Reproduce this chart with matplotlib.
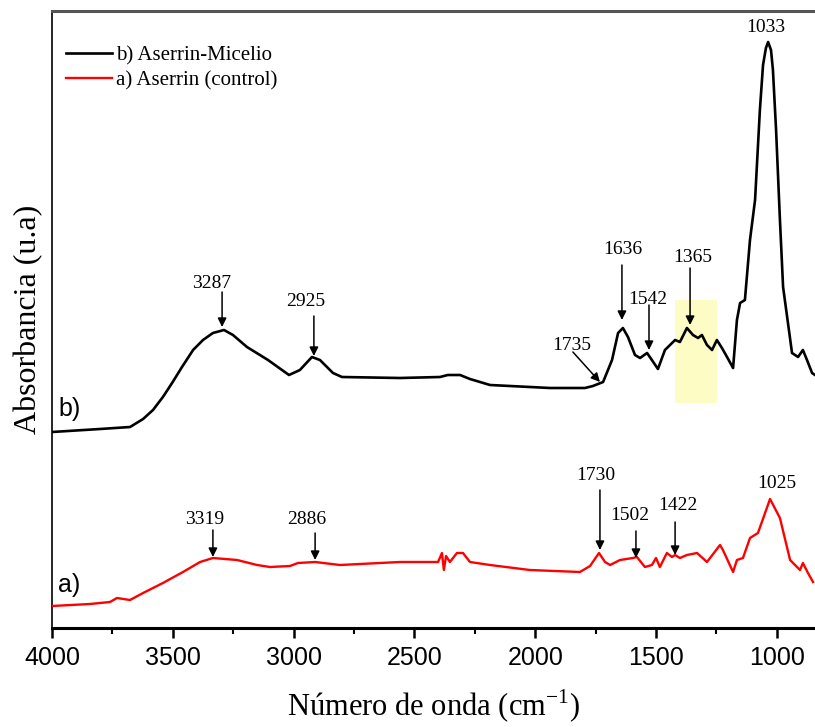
import matplotlib.pyplot as plt
from matplotlib.patches import Rectangle

# espectro b) Aserrin-Micelio (numero de onda, absorbancia u.a.)
wn_b = [4000, 3801, 3677, 3623, 3582, 3541, 3503, 3462, 3416, 3375, 3334, 3288,
        3251, 3193, 3106, 3019, 2974, 2924, 2891, 2837, 2800, 2560, 2394, 2362,
        2311, 2270, 2187, 1939, 1794, 1761, 1719, 1682, 1657, 1637, 1616, 1587,
        1566, 1537, 1517, 1492, 1463, 1421, 1401, 1372, 1347, 1326, 1310, 1289,
        1268, 1248, 1227, 1206, 1181, 1165, 1152, 1132, 1111, 1090, 1070, 1057,
        1045, 1036, 1024, 1016, 1003, 987, 974, 937, 912, 892, 875, 854, 842]
abs_b = [1.96, 1.99, 2.01, 2.09, 2.18, 2.31, 2.45, 2.61, 2.78, 2.88, 2.95, 2.98,
         2.93, 2.81, 2.68, 2.53, 2.58, 2.71, 2.68, 2.55, 2.51, 2.50, 2.51, 2.53,
         2.53, 2.49, 2.43, 2.40, 2.40, 2.42, 2.46, 2.68, 2.95, 3.00, 2.91, 2.73,
         2.70, 2.75, 2.68, 2.59, 2.78, 2.88, 2.86, 3.00, 2.93, 2.90, 2.93, 2.83,
         2.78, 2.88, 2.80, 2.71, 2.60, 3.08, 3.25, 3.28, 3.88, 4.28, 5.18, 5.63,
         5.80, 5.86, 5.78, 5.58, 4.98, 4.08, 3.41, 2.75, 2.71, 2.78, 2.68, 2.55,
         2.53]

# espectro a) Aserrin (control)
wn_a = [4000, 3843, 3760, 3731, 3677, 3623, 3541, 3458, 3387, 3334, 3234, 3151,
        3098, 3015, 2982, 2911, 2808, 2560, 2402, 2386, 2378, 2369, 2353, 2324,
        2299, 2270, 2187, 2022, 1815, 1773, 1736, 1711, 1690, 1649, 1595, 1579,
        1546, 1517, 1500, 1484, 1455, 1434, 1421, 1401, 1372, 1330, 1289, 1235,
        1223, 1181, 1165, 1140, 1111, 1078, 1028, 987, 945, 904, 892, 871, 850]
abs_a = [0.22, 0.24, 0.26, 0.30, 0.28, 0.35, 0.45, 0.56, 0.66, 0.70, 0.68, 0.63,
         0.61, 0.62, 0.65, 0.66, 0.63, 0.66, 0.66, 0.75, 0.58, 0.72, 0.66, 0.75,
         0.75, 0.66, 0.63, 0.58, 0.56, 0.62, 0.75, 0.66, 0.63, 0.68, 0.70, 0.71,
         0.61, 0.63, 0.70, 0.61, 0.75, 0.71, 0.73, 0.70, 0.73, 0.75, 0.66, 0.83,
         0.78, 0.56, 0.68, 0.70, 0.90, 0.95, 1.29, 1.10, 0.68, 0.58, 0.65, 0.55,
         0.46]

# etiquetas de picos: texto, x texto, y texto, x flecha, y cola, y punta
picos = [
    ("3287", 3338, 3.45, 3296, 3.36, 3.01),
    ("2925", 2949, 3.26, 2916, 3.12, 2.72),
    ("1636", 1637, 3.78, 1641, 3.63, 3.08),
    ("1542", 1533, 3.28, 1529, 3.23, 2.78),
    ("1365", 1347, 3.70, 1359, 3.60, 3.03),
    ("3319", 3367, 1.08, 3334, 0.98, 0.71),
    ("2886", 2945, 1.08, 2911, 0.95, 0.68),
    ("1730", 1748, 1.53, 1732, 1.38, 0.78),
    ("1502", 1608, 1.12, 1583, 0.97, 0.70),
    ("1422", 1409, 1.23, 1421, 1.06, 0.73),
]

serif = 'Liberation Serif'
sans = 'Liberation Sans'
plt.rcParams['mathtext.fontset'] = 'custom'
plt.rcParams['mathtext.rm'] = serif

fig = plt.figure(figsize=(8.15, 7.27), dpi=100)
ax = fig.add_axes([52 / 815, 99 / 727, 763 / 815, 617 / 727])

ax.add_patch(Rectangle((1248, 2.25), 1421 - 1248, 1.03, facecolor='#fdfcc4',
                       edgecolor='none', zorder=0))

ax.plot(wn_b, abs_b, color='black', lw=1.9, label='b) Aserrin-Micelio', zorder=3)
ax.plot(wn_a, abs_a, color='#ff0000', lw=1.7, label='a) Aserrin (control)', zorder=3)

arrow = dict(arrowstyle='-|>', color='black', lw=1.1, mutation_scale=13,
             shrinkA=0, shrinkB=0)
for txt, tx, ty, ax_x, y0, y1 in picos:
    ax.text(tx, ty, txt, ha='center', va='center', fontsize=14, family=serif, zorder=4)
    ax.annotate('', xy=(ax_x, y1), xytext=(ax_x, y0), arrowprops=arrow, zorder=4)

# 1735 con flecha diagonal
ax.text(1848, 2.83, "1735", ha='center', va='center', fontsize=14, family=serif)
ax.annotate('', xy=(1732, 2.46), xytext=(1844, 2.76), arrowprops=arrow)
ax.text(1045, 6.00, "1033", ha='center', va='center', fontsize=14, family=serif)
ax.text(999, 1.45, "1025", ha='center', va='center', fontsize=14, family=serif)

ax.text(3926, 2.19, "b)", ha='center', va='center', fontsize=18, family=sans)
ax.text(3930, 0.43, "a)", ha='center', va='center', fontsize=18, family=sans)

ax.set_xlim(4000, 4000 - 763 / 0.2416)
ax.set_ylim(0, 6.17)
ax.set_xticks([4000, 3500, 3000, 2500, 2000, 1500, 1000])
ax.set_xticks([3750, 3250, 2750, 2250, 1750, 1250], minor=True)
ax.set_yticks([])
ax.tick_params(axis='x', which='major', direction='out', length=7, width=1.8,
               labelsize=18, pad=6)
ax.tick_params(axis='x', which='minor', direction='out', length=4, width=1.5)
for lab in ax.get_xticklabels():
    lab.set_family(sans)

ax.spines['right'].set_visible(False)
ax.spines['bottom'].set_linewidth(2.2)
ax.spines['left'].set_linewidth(1.2)
ax.spines['top'].set_linewidth(2.2)
ax.spines['top'].set_color('#555555')

ax.set_xlabel(r'Número de onda (cm$^{\mathrm{-1}}$)', fontsize=22, family=serif,
              labelpad=13)
ax.set_ylabel('Absorbancia (u.a)', fontsize=23, family=serif, labelpad=6)

ax.legend(loc='upper left', bbox_to_anchor=(66 / 815, 1 - 46 / 727),
          bbox_transform=fig.transFigure, frameon=False, borderpad=0,
          borderaxespad=0, handlelength=2.2, handletextpad=0.2, labelspacing=0.25,
          prop={'family': serif, 'size': 15})

fig.savefig('out.png', dpi=100)
